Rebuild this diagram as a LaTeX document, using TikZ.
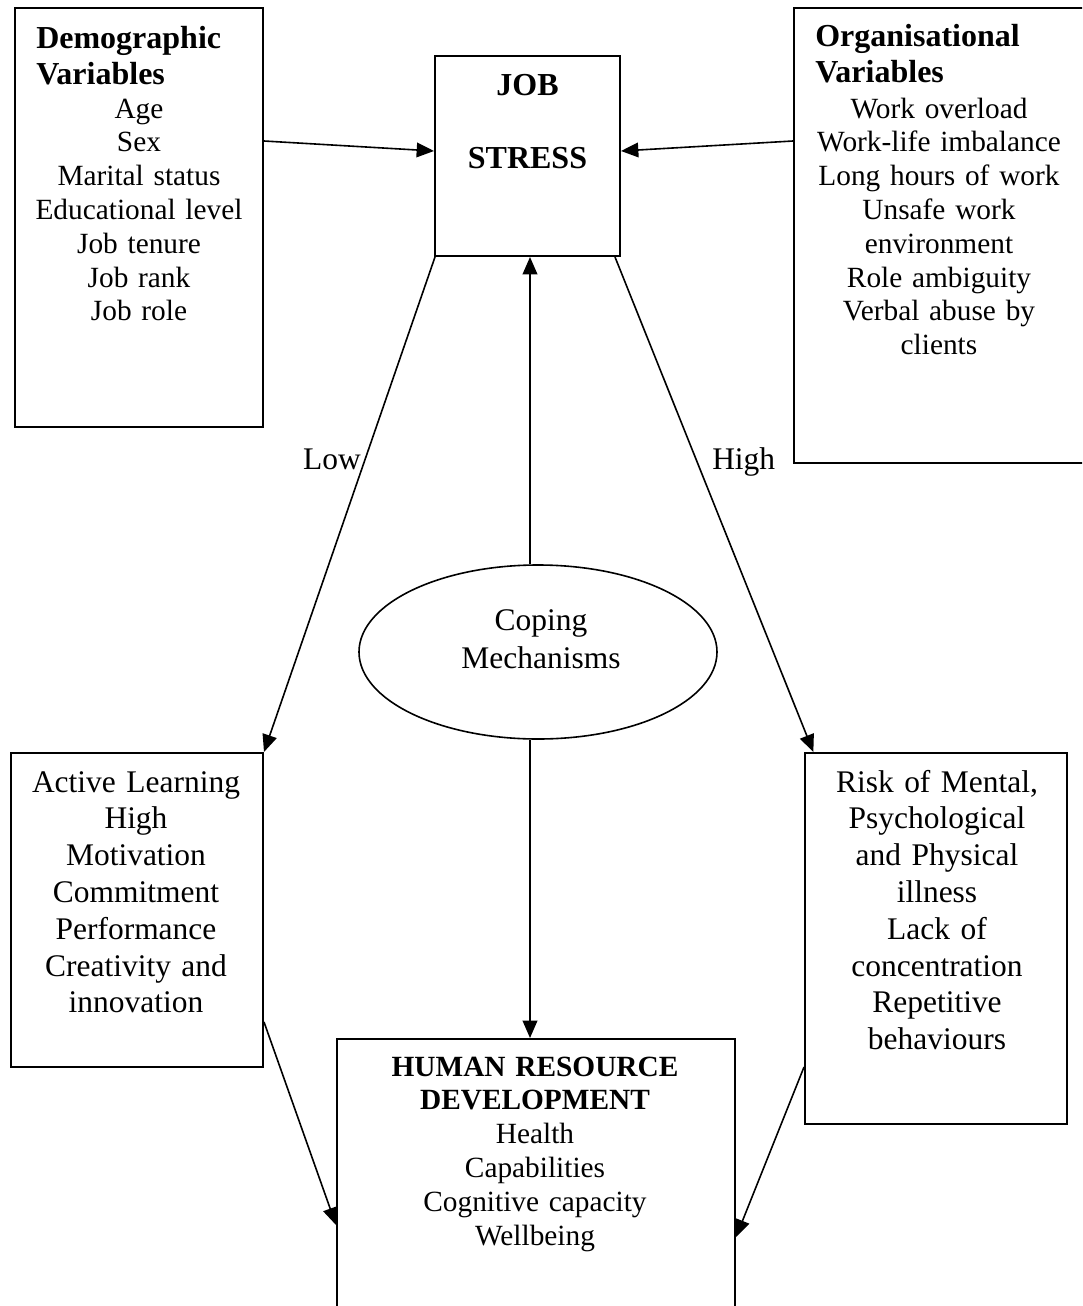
\documentclass[tikz,border=0pt]{standalone}
\usepackage{fontspec}
\setmainfont{Liberation Serif}
\usetikzlibrary{arrows.meta,fit,shapes.geometric}

\tikzset{
  box/.style={draw, line width=1.5pt, rectangle, inner sep=0pt},
  oval/.style={draw, line width=1.2pt, ellipse, inner sep=0pt,
    minimum width=268.5pt, minimum height=130.5pt},
  link/.style={line width=1.2pt, -{Triangle[length=13pt,width=11pt]}},
  hdr/.style={font=\fontsize{24}{27}\selectfont\bfseries, align=left,
    inner sep=0pt, anchor=base west, text width=#1},
  txtsmall/.style={font=\fontsize{22}{25.35}\selectfont, align=center,
    inner sep=0pt, anchor=base, text width=#1},
  txtlarge/.style={font=\fontsize{23.6}{27.6}\selectfont, align=center,
    inner sep=0pt, anchor=base, text width=#1},
  tag/.style={font=\fontsize{23.6}{27.6}\selectfont, inner sep=0pt}
}

\begin{document}
\begin{tikzpicture}[x=0.75pt,y=-0.75pt]
\fill[white] (0,0) rectangle (1082,1306);
\useasboundingbox (0,0) rectangle (1082,1306);
\clip (0,0) rectangle (1082,1306);

% boxes
\node[box, fit={(15,8) (263,427)}] (demo) {};
\node[box, fit={(435,56) (620,256)}] (job) {};
\node[box, fit={(794,8) (1110,463)}] (org) {};
\node[box, fit={(11,753) (263,1067)}] (act) {};
\node[box, fit={(805,753) (1067,1124)}] (risk) {};
\node[box, fit={(337,1039) (735,1340)}] (hrd) {};
\node[oval] (cope) at (538,652) {};

% box contents
\node[hdr=175pt] (demo-head) at (36,49) {Demographic\\Variables};
\node[txtsmall=180pt] (demo-list) at (139,118)
  {Age\\Sex\\Marital status\\Educational level\\Job tenure\\Job rank\\Job role};

\node[hdr=200pt] (org-head) at (815,47) {Organisational\\Variables};
\node[txtsmall=200pt] (org-list) at (939,118)
  {Work overload\\Work-life imbalance\\Long hours of work\\Unsafe work\\environment\\Role ambiguity\\Verbal abuse by\\clients};

\node[txtlarge=130pt, font=\fontsize{24}{27.6}\selectfont\bfseries] (job-text) at (527.5,95)
  {JOB\\[27.6pt]STRESS};

\node[txtlarge=180pt, font=\fontsize{23.6}{28.5}\selectfont] (cope-text) at (541,630)
  {Coping\\Mechanisms};

\node[txtlarge=180pt] (act-text) at (136,792)
  {Active Learning\\High\\Motivation\\Commitment\\Performance\\Creativity and\\innovation};

\node[txtlarge=190pt] (risk-text) at (937,792)
  {Risk of Mental,\\Psychological\\and Physical\\illness\\Lack of\\concentration\\Repetitive\\behaviours};

\node[txtsmall=280pt] (hrd-text) at (535,1076)
  {\textbf{HUMAN RESOURCE}\\\textbf{DEVELOPMENT}\\Health\\Capabilities\\Cognitive capacity\\Wellbeing};

% branch labels
\node[tag, anchor=base east] (low) at (361,469) {Low};
\node[tag, anchor=base west] (high) at (712,469) {High};

% connectors
\draw[link] (demo.east |- 0,141) -- (job.west |- 0,151);
\draw[link] (org.west |- 0,141) -- (job.east |- 0,151);
\draw[link] ([xshift=0.75pt]job.south west) -- (act.north east);
\draw[link] ([xshift=-4.5pt]job.south east) -- ([xshift=7pt]risk.north west);

\coordinate (cope-top) at ([xshift=-6pt]cope.north);
\coordinate (cope-bot) at ([xshift=-6pt]cope.south);
\draw[link] (cope-top) -- (cope-top |- job.south);
\draw[link] (cope-bot) -- (cope-bot |- hrd.north);

\draw[link] (act.east |- 0,1022) -- (hrd.west |- 0,1225);
\draw[link] (risk.west |- 0,1067) -- (hrd.east |- 0,1237);
\end{tikzpicture}
\end{document}
